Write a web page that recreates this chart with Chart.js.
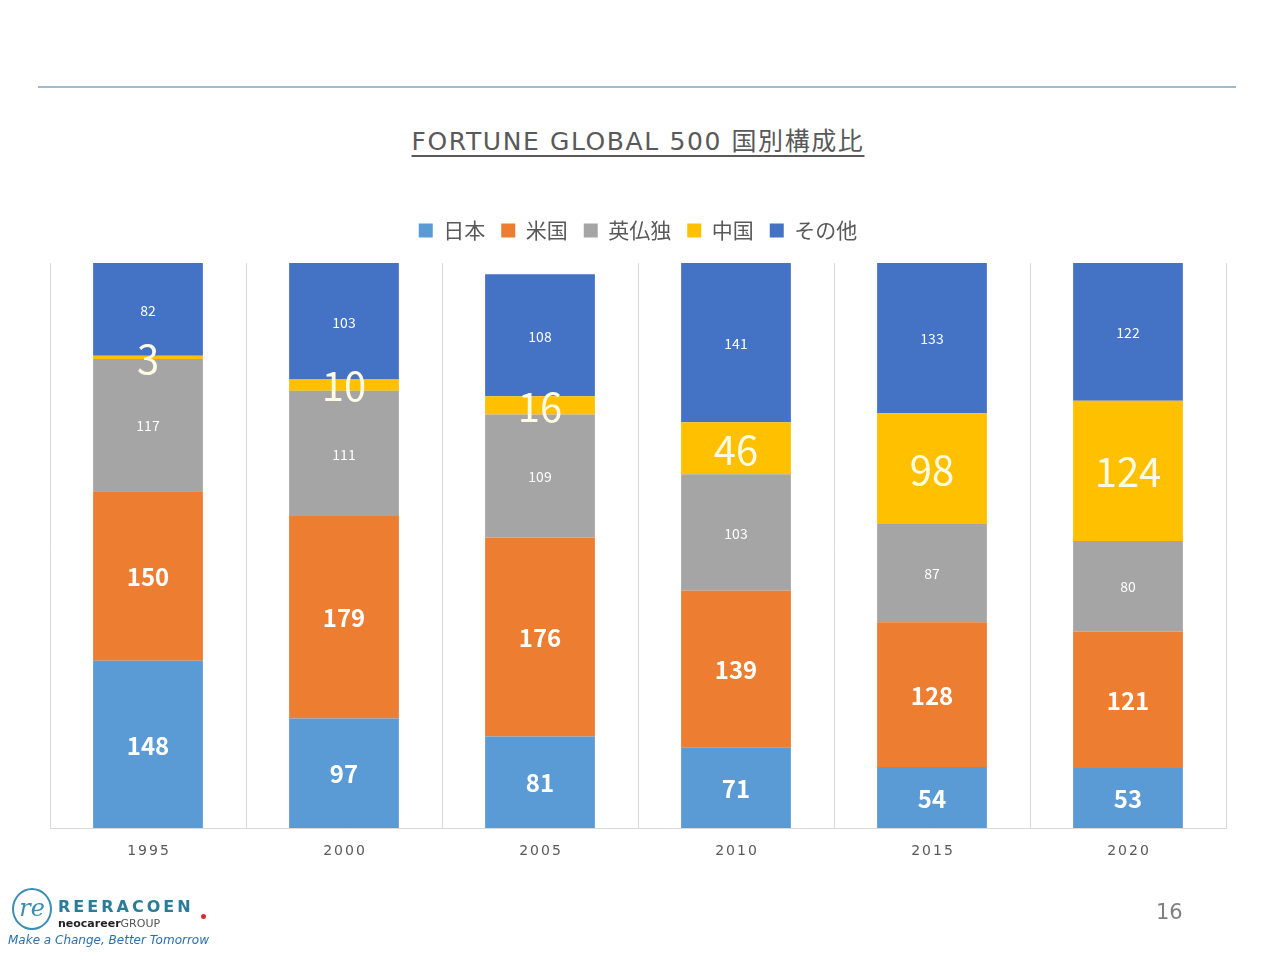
<!DOCTYPE html>
<html>
<head>
<meta charset="utf-8">
<script src="https://cdn.jsdelivr.net/npm/chart.js@4"></script>
<style>
  body { margin: 0; background: #fff; font-family: "Noto Sans CJK JP", "Noto Sans", sans-serif; }
  #page { position: relative; width: 1280px; height: 960px; overflow: hidden; }
  #topline { position: absolute; left: 38px; top: 86px; width: 1198px; height: 2px; background: #9fbccc; }
  #title { position: absolute; left: 0; width: 1276px; top: 121px; text-align: center; font-size: 25px; letter-spacing: 1.6px; color: #595959; font-family: "DejaVu Sans", "Noto Sans CJK JP", sans-serif; text-decoration: underline; text-underline-offset: 5px; text-decoration-thickness: 2px; }
  #chartbox { position: absolute; left: 0; top: 0; width: 1280px; height: 960px; }
  #pagenum { position: absolute; left: 1156px; top: 900px; font-size: 21px; color: #7f7f7f; font-family: "DejaVu Sans", sans-serif; }
  #logo { position: absolute; left: 8px; top: 884px; width: 210px; height: 70px; }
  .ring { position: absolute; left: 4px; top: 4px; width: 36px; height: 38px; border: 2px solid #3a8fb0; border-radius: 50%; color: #3a8fb0; font: italic 24px "DejaVu Serif", serif; text-align: center; line-height: 36px; }
  .brand { position: absolute; left: 50px; top: 13px; font: bold 16px "DejaVu Sans", sans-serif; letter-spacing: 3px; color: #2b7c98; }
  .neo { position: absolute; left: 50px; top: 33px; font: bold 11px "DejaVu Sans", sans-serif; color: #222; }
  .neo span { font-weight: normal; color: #555; }
  .slogan { position: absolute; left: 0; top: 49px; font: italic 12px "DejaVu Sans", sans-serif; color: #2a6fb0; white-space: nowrap; }
  .dot { position: absolute; left: 193px; top: 30px; width: 5px; height: 5px; border-radius: 50%; background: #d03030; }
</style>
</head>
<body>
<div id="page">
  <div id="topline"></div>
  <div id="title">FORTUNE GLOBAL 500 国別構成比</div>
  <div id="chartbox"><canvas id="chart"></canvas></div>
  <div id="pagenum">16</div>
  <div id="logo">
    <div class="ring">re</div>
    <div class="brand">REERACOEN</div>
    <div class="neo">neocareer<span>GROUP</span></div>
    <div class="dot"></div>
    <div class="slogan">Make a Change, Better Tomorrow</div>
  </div>
</div>
<script>
const years = ['1995', '2000', '2005', '2010', '2015', '2020'];
const seriesNames = ['日本', '米国', '英仏独', '中国', 'その他'];
const japan = [148, 97, 81, 71, 54, 53];
const usa = [150, 179, 176, 139, 128, 121];
const europe = [117, 111, 109, 103, 87, 80];
const china = [3, 10, 16, 46, 98, 124];
const others = [82, 103, 108, 141, 133, 122];

const colors = ['#5B9BD5', '#ED7D31', '#A5A5A5', '#FFC000', '#4472C4'];
const labelFonts = [
  { font: 'bold 24px "Noto Sans CJK JP"', color: '#ffffff' },
  { font: 'bold 24px "Noto Sans CJK JP"', color: '#ffffff' },
  { font: '14px "Noto Sans CJK JP"', color: '#ffffff' },
  { font: '40px "Noto Sans CJK JP"', color: '#fffbe4' },
  { font: '14px "Noto Sans CJK JP"', color: '#ffffff' }
];

const values = [japan, usa, europe, china, others];

// legend needs a bit more room below it than Chart.js gives
const legendGap = {
  id: 'legendGap',
  afterInit(chart) {
    const fit = chart.legend.fit;
    chart.legend.fit = function () {
      fit.call(this);
      this.height += 12;
    };
  }
};

const barLabels = {
  id: 'barLabels',
  afterDatasetsDraw(chart) {
    const ctx = chart.ctx;
    chart.data.datasets.forEach((ds, i) => {
      const meta = chart.getDatasetMeta(i);
      meta.data.forEach((bar, j) => {
        const y = (bar.y + bar.base) / 2;
        ctx.save();
        ctx.font = labelFonts[i].font;
        ctx.fillStyle = labelFonts[i].color;
        ctx.textAlign = 'center';
        ctx.textBaseline = 'middle';
        ctx.fillText(String(ds.data[j]), bar.x, y + 1);
        ctx.restore();
      });
    });
  },
  afterDraw(chart) {
    const ctx = chart.ctx;
    const xs = chart.scales.x;
    ctx.save();
    ctx.font = '14px "DejaVu Sans"';
    ctx.fillStyle = '#595959';
    ctx.textAlign = 'center';
    ctx.textBaseline = 'middle';
    ctx.letterSpacing = '2px';
    years.forEach((y, i) => {
      ctx.fillText(y, xs.getPixelForTick(i) + 1, xs.bottom + 23);
    });
    ctx.restore();
  }
};

new Chart(document.getElementById('chart'), {
  type: 'bar',
  data: {
    labels: years,
    datasets: seriesNames.map((name, i) => ({
      label: name,
      data: values[i],
      backgroundColor: colors[i],
      borderWidth: 0,
      categoryPercentage: 1.0,
      barPercentage: 0.56
    }))
  },
  options: {
    responsive: true,
    maintainAspectRatio: false,
    animation: false,
    layout: { padding: { left: 50, right: 54, top: 204, bottom: 132 } },
    scales: {
      x: {
        stacked: true,
        grid: { color: '#d9d9d9', drawTicks: false, offset: true },
        border: { color: '#d9d9d9' },
        ticks: { display: false }
      },
      y: {
        stacked: true,
        display: false,
        min: 0,
        max: 500
      }
    },
    plugins: {
      legend: {
        position: 'top',
        labels: {
          boxWidth: 14,
          boxHeight: 14,
          padding: 16,
          color: '#595959',
          font: { size: 21, family: '"Noto Sans CJK JP"' }
        }
      },
      tooltip: { enabled: false }
    }
  },
  plugins: [legendGap, barLabels]
});
</script>
</body>
</html>
